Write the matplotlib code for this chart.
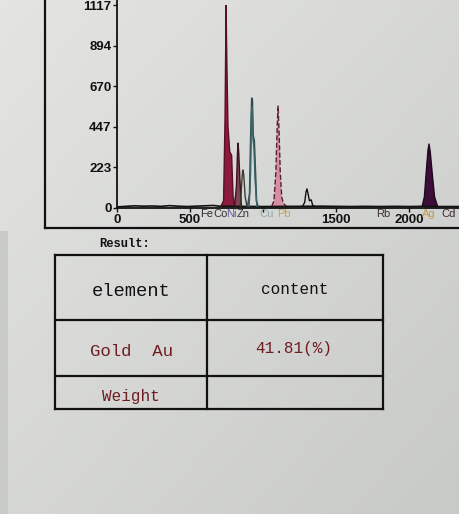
import numpy as np
import matplotlib
matplotlib.use('Agg')
import matplotlib.pyplot as plt
from matplotlib.patches import Rectangle

W, H = 460, 514

# Espectro - puntos (canal, cuentas)
base_x = [0, 60, 120, 180, 240, 300, 360, 420, 480, 540, 600, 660, 700,
          1000, 1200, 1400, 1500, 1600, 1700, 1800, 1900, 2000, 2080, 2200, 2349]
base_y = [6, 9, 12, 10, 11, 9, 13, 10, 8, 10, 12, 14, 10,
          8, 9, 10, 9, 8, 9, 8, 9, 8, 9, 8, 8]

pk1_x = [712, 730, 740, 747, 752, 760, 772, 785, 795, 808]
pk1_y = [10, 40, 500, 1117, 820, 450, 310, 290, 60, 10]
pk2_x = [805, 818, 825, 829, 834, 842, 852]
pk2_y = [10, 120, 300, 357, 300, 150, 10]
pk3_x = [845, 855, 860, 863, 868, 878, 890]
pk3_y = [10, 150, 200, 209, 180, 60, 10]
pk4_x = [895, 908, 916, 923, 927, 932, 940, 948, 955, 965]
pk4_y = [10, 80, 400, 605, 590, 400, 370, 200, 40, 10]
pk4b_x = [905, 915, 921, 926, 931, 938, 946, 958]
pk4b_y = [10, 200, 520, 560, 380, 330, 150, 10]
pk5_x = [1060, 1075, 1088, 1097, 1103, 1110, 1118, 1128, 1140, 1160]
pk5_y = [10, 40, 200, 450, 561, 420, 200, 60, 25, 10]
pk6_x = [1270, 1285, 1295, 1301, 1308, 1318, 1330, 1340, 1355]
pk6_y = [10, 30, 90, 105, 80, 40, 45, 15, 8]
pk7_x = [2090, 2105, 2118, 2130, 2137, 2145, 2160, 2175, 2195]
pk7_y = [10, 60, 200, 320, 352, 310, 180, 60, 10]

y_ticks = [0, 223, 447, 670, 894, 1117]
x_ticks = [0, 500, 1000, 1500, 2000]
x_tick_labels = ['0', '500', '', '1500', '2000']

# Etiquetas de elementos bajo el eje
elem_names = ['Fe', 'Co', 'Ni', 'Zn', 'Cu', 'Pb', 'Rb', 'Ag', 'Cd']
elem_pos = [612, 708, 784, 864, 1027, 1144, 1825, 2135, 2270]
elem_colors = ['#2c2c2c', '#3a3030', '#6a5aa0', '#3a3440', '#8fa8b0',
               '#c8a060', '#3a3030', '#c09a50', '#3a2a30']

# Tabla de resultados
col_head = ['element', 'content']
row_name = ['Gold  Au', 'Weight']
row_value = ['41.81(%)', '']

paper = '#dcdddb'
fig = plt.figure(figsize=(W/100, H/100), dpi=100, facecolor=paper)


def fx(px):
    return px/W


def fy(py):
    return 1 - py/H


# fondo de papel con sombra suave (foto)
bg = fig.add_axes([0, 0, 1, 1], zorder=-10)
gx, gy = np.meshgrid(np.linspace(0, 1, 60), np.linspace(0, 1, 60))
shade = 0.5*gx + 0.5*gy
bg.imshow(shade, cmap=matplotlib.colors.LinearSegmentedColormap.from_list(
    'p', ['#e4e5e3', '#c8cac7']), extent=[0, 1, 0, 1], aspect='auto', origin='upper')
bg.add_patch(Rectangle((0, 0), fx(8), 0.55, facecolor='#c8cac8', edgecolor='none'))
bg.set_xlim(0, 1)
bg.set_ylim(0, 1)
bg.axis('off')

# Marco exterior del grafico
fig.add_artist(plt.Line2D([fx(45), fx(45)], [fy(0), fy(228)], color='#111', lw=1.6))
fig.add_artist(plt.Line2D([fx(45), fx(460)], [fy(228), fy(228)], color='#111', lw=1.6))

ax = fig.add_axes([fx(117), fy(208), fx(460) - fx(117), fy(5) - fy(208)])
ax.set_facecolor('none')
ax.set_xlim(0, 2349)
ax.set_ylim(0, 1117)
for s in ['top', 'right']:
    ax.spines[s].set_visible(False)
ax.spines['left'].set_bounds(0, 1150)
for s in ['left', 'bottom']:
    ax.spines[s].set_color('#111')
    ax.spines[s].set_linewidth(1.3)

ax.plot(base_x, base_y, color='#111', lw=1.2)
ax.fill(pk1_x, pk1_y, color='#8b1a3c', lw=0)
ax.plot(pk1_x, pk1_y, color='#5a0f25', lw=1.0)
ax.fill(pk2_x, pk2_y, color='#6b1f35', lw=0, alpha=0.8)
ax.plot(pk2_x, pk2_y, color='#3a1020', lw=1.0)
ax.plot(pk3_x, pk3_y, color='#3a3a30', lw=1.0)
ax.plot(pk4_x, pk4_y, color='#2e4a4c', lw=1.2)
ax.plot(pk4b_x, pk4b_y, color='#3a6468', lw=1.0)
ax.fill(pk5_x, pk5_y, color='#d490a0', lw=0)
ax.plot(pk5_x, pk5_y, color='#5a2030', lw=1.0, ls='--')
ax.plot(pk6_x, pk6_y, color='#111', lw=1.0)
ax.fill(pk7_x, pk7_y, color='#3a0e38', lw=0)
ax.plot(pk7_x, pk7_y, color='#200820', lw=1.0)

ax.set_yticks(y_ticks)
ax.set_xticks(x_ticks)
ax.set_xticklabels(x_tick_labels)
ax.tick_params(labelsize=9.5, length=3, width=1, pad=1, colors='#111',
               labelfontfamily='Liberation Sans')
for lab in ax.get_yticklabels() + ax.get_xticklabels():
    lab.set_fontweight('bold')

for name, pos, c in zip(elem_names, elem_pos, elem_colors):
    ax.text(pos, -8, name, color=c, fontsize=8, family='Liberation Sans',
            ha='center', va='top', transform=ax.transData, clip_on=False)

# Resultado
fig.text(fx(99), fy(244), 'Result:', fontsize=8.7, fontweight='bold',
         family='Liberation Mono', ha='left', va='center', color='#111')

tx = [55, 207, 383]
ty = [255, 320, 376, 409]
for x in tx:
    fig.add_artist(plt.Line2D([fx(x), fx(x)], [fy(ty[0]), fy(ty[-1])], color='#111', lw=1.6))
for y in ty:
    fig.add_artist(plt.Line2D([fx(tx[0]), fx(tx[-1])], [fy(y), fy(y)], color='#111', lw=1.6))

red = '#6e1c22'
fig.text(fx(131), fy(292), col_head[0], fontsize=13.5, family='Liberation Mono',
         ha='center', va='center', color='#111')
fig.text(fx(295), fy(289), col_head[1], fontsize=11.5, family='Liberation Mono',
         ha='center', va='center', color='#111')
fig.text(fx(131), fy(351), row_name[0], fontsize=12.5, family='Liberation Mono',
         ha='center', va='center', color=red)
fig.text(fx(294), fy(349), row_value[0], fontsize=11.5, family='Liberation Mono',
         ha='center', va='center', color=red)
fig.text(fx(131), fy(396), row_name[1], fontsize=11.5, family='Liberation Mono',
         ha='center', va='center', color=red)

fig.savefig('out.png', dpi=100, facecolor=paper)
